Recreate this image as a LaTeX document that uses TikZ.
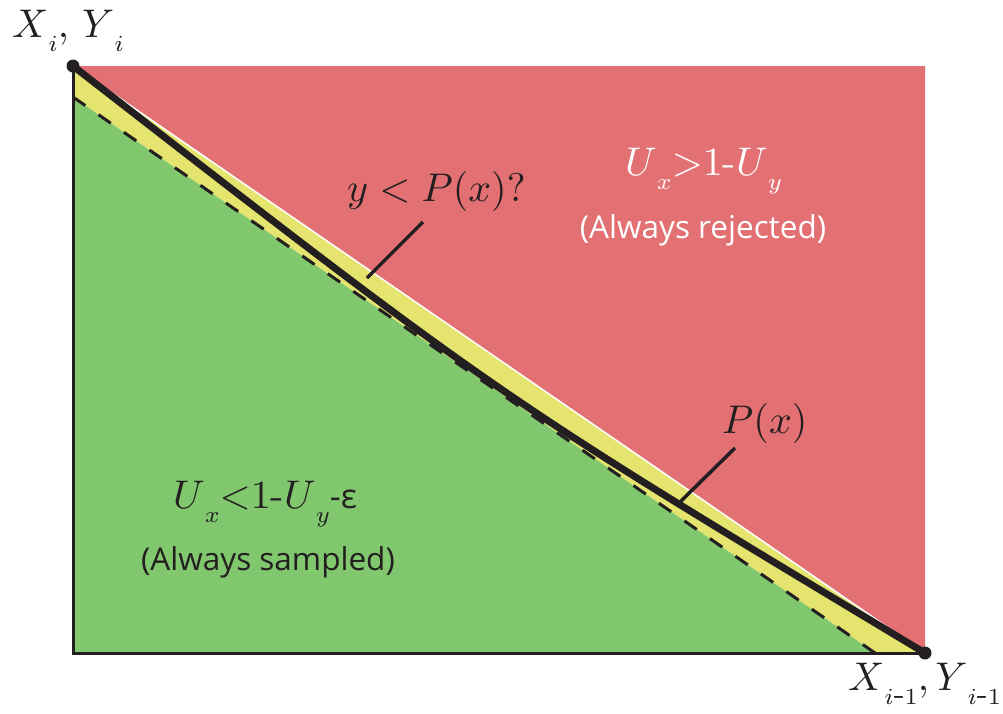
\documentclass[tikz,border=0pt]{standalone}
\usepackage{graphicx}
\usepackage{fontspec}
\newfontfamily\labelfont{Open Sans}
\definecolor{redreg}{HTML}{E37073}
\definecolor{yelreg}{HTML}{E5E46E}
\definecolor{grnreg}{HTML}{80C76E}
\definecolor{ink}{HTML}{231F20}
\newcommand\lsb[1]{\lower0.36em\hbox{\scalebox{0.82}{$\scriptstyle #1$}}}
\newcommand\bigtxt[1]{\scalebox{4}{#1}}
\tikzset{
  mathlbl/.style={anchor=base west, inner sep=0pt, font=\fontsize{10}{12}\selectfont},
  sanslbl/.style={anchor=base, inner sep=0pt, font=\labelfont\fontsize{31.5}{36}\selectfont},
  pointer/.style={draw=ink, line width=3.5pt},
}
\begin{document}
\begin{tikzpicture}[x=1pt,y=-1pt]
\useasboundingbox (0,0) rectangle (1003,713);
\coordinate (TL) at (73,66);
\coordinate (TR) at (925,66);
\coordinate (BR) at (925,653);
\coordinate (BL) at (73,653);
\coordinate (DS) at (73,97);
\coordinate (DE) at (875,653);
\coordinate (CP) at (499,397);
% regions
\fill[redreg] (TL) -- (TR) -- (BR) -- cycle;
\fill[yelreg] (TL) -- (BR) -- (DE) -- (DS) -- cycle;
\fill[grnreg] (DS) -- (DE) -- (BL) -- cycle;
\draw[white, line width=1.5pt] (TL) -- (BR);
\draw[ink, line width=3pt, dash pattern=on 15pt off 16pt] (DS) -- (DE);
\draw[ink, line width=7pt] (TL) .. controls (CP) .. (BR);
\draw[ink, line width=3pt] (TL) -- (BL) -- (BR);
\fill[ink] (TL) circle (6.5);
\fill[ink] (BR) circle (6.5);
% pointers
\coordinate (p1a) at (423,222);
\coordinate (p1b) at (367,278);
\coordinate (p2a) at (735,448);
\coordinate (p2b) at (680,502);
\draw[pointer] (p1a) -- (p1b);
\draw[pointer] (p2a) -- (p2b);
% labels
\node[mathlbl, text=ink] (lXi) at (12,37) {\bigtxt{$X\lsb{i},\,Y\lsb{i}$}};
\node[mathlbl, text=ink] (lXim) at (848,690) {\bigtxt{$X\lsb{i\mbox{-}1},Y\lsb{i\mbox{-}1}$}};
\node[mathlbl, text=ink] (lq) at (347,201) {\bigtxt{$y < P(x)?$}};
\node[mathlbl, text=ink] (lP) at (722,433) {\bigtxt{$P(x)$}};
\node[mathlbl, text=white] (lrej) at (625,175) {\bigtxt{$U\lsb{x}{>}1\mbox{-}U\lsb{y}$}};
\node[sanslbl, text=white] (lrejt) at (703,238) {(Always rejected)};
\node[mathlbl, text=ink] (lsam) at (173,508) {\bigtxt{$U\lsb{x}{<}1\mbox{-}U\lsb{y}$\mbox{\labelfont\fontsize{8.5}{10}\selectfont -ε}}};
\node[sanslbl, text=ink] (lsamt) at (268,570) {(Always sampled)};
\end{tikzpicture}
\end{document}
